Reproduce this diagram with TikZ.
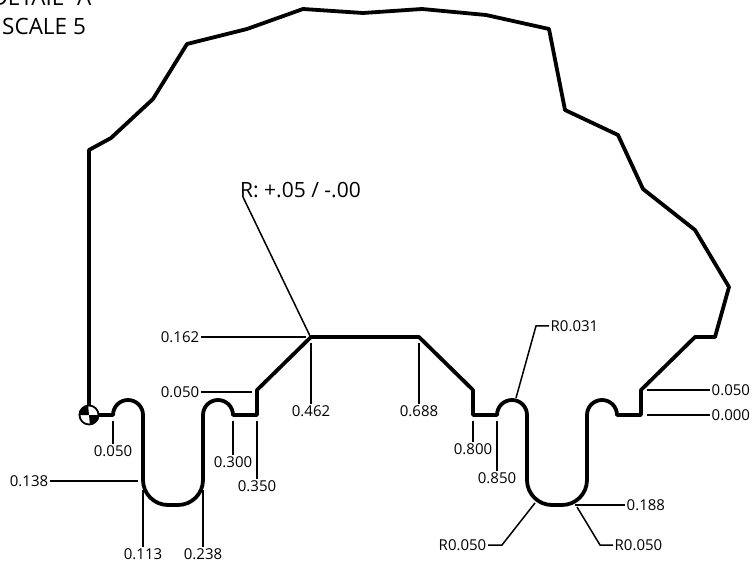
\documentclass[tikz,border=0pt]{standalone}
\usepackage{fontspec}
\setmainfont{Open Sans}
\tikzset{
  profile/.style={draw=black,line width=3.8pt,line join=round,line cap=round},
  leader/.style={draw=black,line width=1.5pt},
  dim/.style={font=\fontsize{15}{18}\selectfont,inner sep=1.5pt,text=black},
  note/.style={font=\fontsize{22.5}{26}\selectfont,inner sep=0pt,text=black},
  rnote/.style={font=\fontsize{21}{25}\selectfont,inner sep=0pt,text=black}
}
\begin{document}
\begin{tikzpicture}[x=1pt,y=-1pt]
\useasboundingbox (0,0) rectangle (753,564);
% profile
\path[profile] (89,415) -- (89,150) -- (111,138) -- (153,99) -- (187,44) -- (247,29) -- (303,9) -- (363,13) -- (422,9) -- (486,15) -- (549,29) -- (565,110) -- (618,135) -- (643,189) -- (695,230) -- (729,287) -- (715,337) -- (695,337) -- (641,390) -- (641,415) -- (617,415)
 .. controls (617,406.7) and (610.3,400) .. (602,400)
 .. controls (593.7,400) and (587,406.7) .. (587,415)
 -- (587,480)
 .. controls (587,493.8) and (575.8,505) .. (562,505)
 -- (552,505)
 .. controls (538.2,505) and (527,493.8) .. (527,480)
 -- (527,415)
 .. controls (527,406.7) and (520.3,400) .. (512,400)
 .. controls (503.7,400) and (497,406.7) .. (497,415)
 -- (473,415) -- (473,390) -- (419,337) -- (311,337) -- (257,390) -- (257,415) -- (233,415)
 .. controls (233,406.7) and (226.3,400) .. (218,400)
 .. controls (209.7,400) and (203,406.7) .. (203,415)
 -- (203,480)
 .. controls (203,493.8) and (191.8,505) .. (178,505)
 -- (168,505)
 .. controls (154.2,505) and (143,493.8) .. (143,480)
 -- (143,415)
 .. controls (143,406.7) and (136.3,400) .. (128,400)
 .. controls (119.7,400) and (113,406.7) .. (113,415)
 -- (89,415);
% datum symbol
\node[circle,draw=black,line width=1.8pt,fill=white,minimum size=19pt,inner sep=0pt] (datum) at (89,415) {};
\fill[black] (datum.center) -- (datum.west) arc[start angle=180,end angle=90,radius=9.5pt] -- cycle;
\fill[black] (datum.center) -- (datum.east) arc[start angle=0,end angle=-90,radius=9.5pt] -- cycle;
% titles
\node[note,anchor=base east] (title) at (98,6) {DETAIL "A"};
\node[note,anchor=base west] (scale) at (2,35) {SCALE 5};
\node[rnote,anchor=base west] (rnote) at (240,198) {R: +.05 / -.00};
% labels
\node[dim] (a) at (113,451) {0.050};
\node[dim] (b) at (233,462) {0.300};
\node[dim] (c) at (257,486) {0.350};
\node[dim] (d) at (29,481) {0.138};
\node[dim] (e) at (143,554) {0.113};
\node[dim] (f) at (203,554) {0.238};
\node[dim] (g) at (180,392) {0.050};
\node[dim] (h) at (180,337) {0.162};
\node[dim] (i) at (311,411) {0.462};
\node[dim] (j) at (419,411) {0.688};
\node[dim] (k) at (473,449) {0.800};
\node[dim] (l) at (497,478) {0.850};
\node[dim,anchor=west] (m) at (549,326) {R0.031};
\node[dim,anchor=west] (n) at (710,390) {0.050};
\node[dim,anchor=west] (o) at (710,415) {0.000};
\node[dim,anchor=west] (q) at (625,505) {0.188};
\node[dim,anchor=east] (r) at (488,545) {R0.050};
\node[dim,anchor=west] (s) at (613,545) {R0.050};
% leader ends
\coordinate (pa) at (113,421);
\coordinate (pb) at (233,421);
\coordinate (pc) at (257,421);
\coordinate (pd) at (138,481);
\coordinate (pe) at (143,490);
\coordinate (pf) at (203,490);
\coordinate (pg) at (252,392);
\coordinate (ph) at (306,337);
\coordinate (pi) at (311,343);
\coordinate (pj) at (419,343);
\coordinate (pk) at (473,421);
\coordinate (pl) at (497,421);
\coordinate (pm) at (516,398);
\coordinate (km) at (536,326);
\coordinate (pn) at (647,390);
\coordinate (po) at (647,415);
\coordinate (pq) at (575,505);
\coordinate (pr) at (535,503);
\coordinate (kr) at (502,545);
\coordinate (ps) at (577,507);
\coordinate (ks) at (600,545);
\coordinate (pt) at (310,336);
\coordinate (rt) at (243,197);
% leaders
\draw[leader] (pa) -- (a.north);
\draw[leader] (pb) -- (b.north);
\draw[leader] (pc) -- (c.north);
\draw[leader] (d.east) -- (pd);
\draw[leader] (pe) -- (e.north);
\draw[leader] (pf) -- (f.north);
\draw[leader] (g.east) -- (pg);
\draw[leader] (h.east) -- (ph);
\draw[leader] (pi) -- (i.north);
\draw[leader] (pj) -- (j.north);
\draw[leader] (pk) -- (k.north);
\draw[leader] (pl) -- (l.north);
\draw[leader] (pm) -- (km) -- (m.west);
\draw[leader] (pn) -- (n.west);
\draw[leader] (po) -- (o.west);
\draw[leader] (pq) -- (q.west);
\draw[leader] (pr) -- (kr) -- (r.east);
\draw[leader] (ps) -- (ks) -- (s.west);
\draw[leader] (rt) -- (pt);
\end{tikzpicture}
\end{document}
